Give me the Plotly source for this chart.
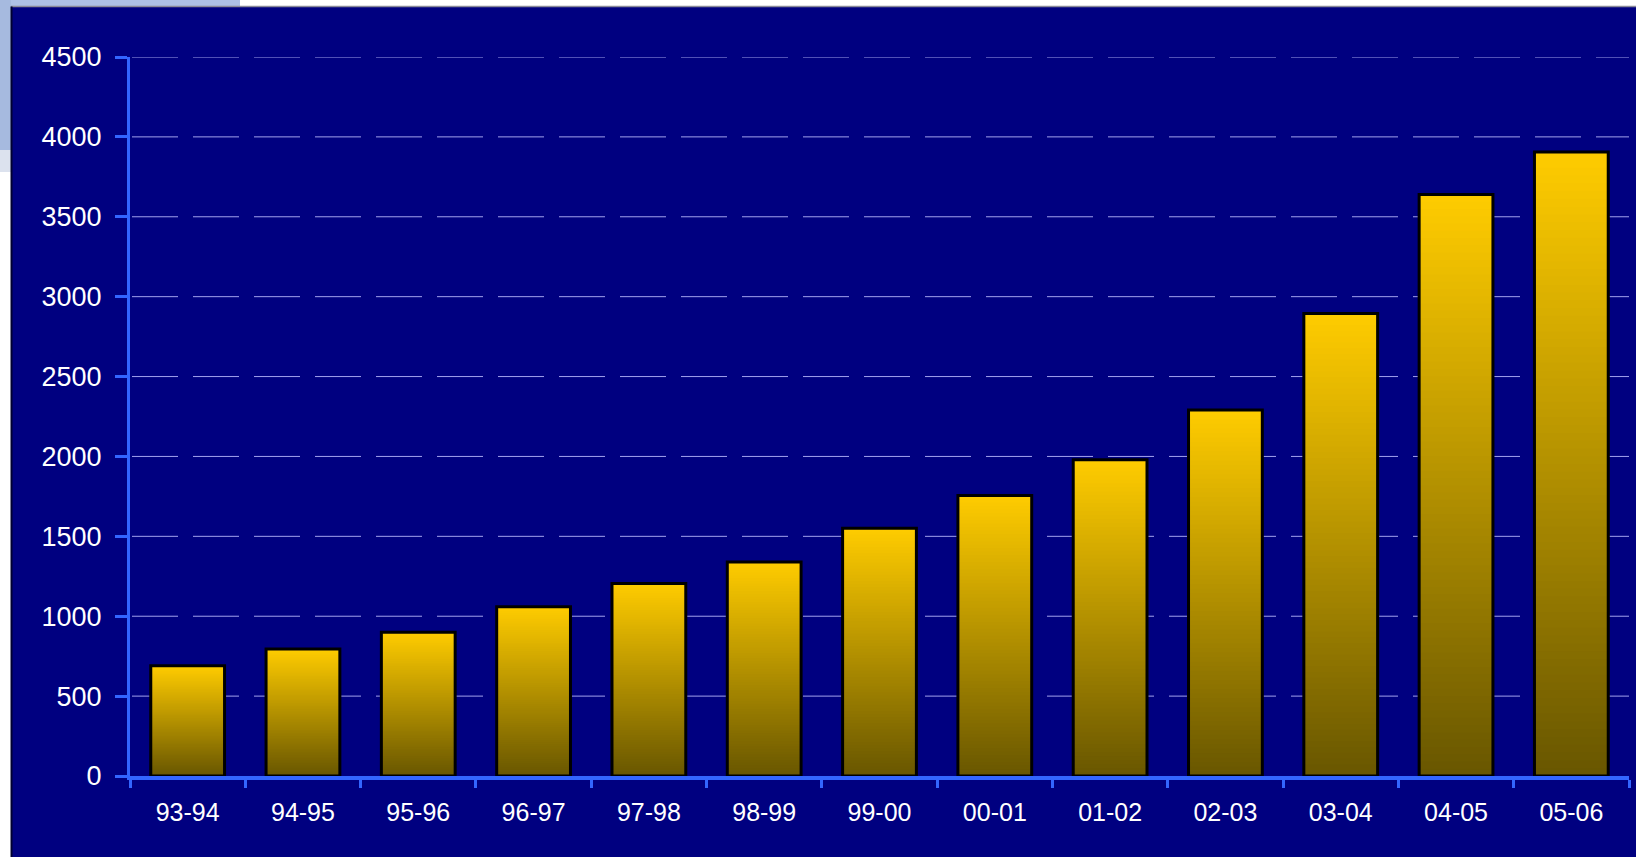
import plotly.graph_objects as go

# Seasons and yearly totals
seasons = ["93-94", "94-95", "95-96", "96-97", "97-98", "98-99", "99-00",
           "00-01", "01-02", "02-03", "03-04", "04-05", "05-06"]
totals = [690, 795, 900, 1060, 1205, 1340, 1550, 1755, 1980, 2290, 2895, 3640, 3905]

y_ticks = [0, 500, 1000, 1500, 2000, 2500, 3000, 3500, 4000, 4500]

W, H = 1636, 857
ML, MR, MT, MB = 130, 7, 57, 81
PW, PH = W - ML - MR, H - MT - MB

NAVY = "#000080"
AXIS_BLUE = "#3366FF"
GRID = "rgba(190,190,255,0.85)"
TOP = (255, 204, 0)
BOTTOM = (104, 86, 0)
N_SLICES = 80


def px_x(px):
    return (px - ML) / PW


def px_y(py):
    return (H - MB - py) / PH


fig = go.Figure()

# Vertical gold gradient: each layer starts a bit higher and runs up to the bar top,
# so later (brighter) layers cover the upper part of the earlier ones.
for k in range(N_SLICES):
    t = (k + 0.5) / N_SLICES
    c = tuple(round(BOTTOM[i] + (TOP[i] - BOTTOM[i]) * t) for i in range(3))
    fig.add_trace(go.Bar(
        x=seasons,
        y=[v * (N_SLICES - k) / N_SLICES for v in totals],
        base=[v * k / N_SLICES for v in totals],
        marker=dict(color="rgb(%d,%d,%d)" % c, line=dict(width=0)),
        hoverinfo="skip",
        showlegend=False,
    ))

# Black outline around each bar
fig.add_trace(go.Bar(
    x=seasons,
    y=totals,
    marker=dict(color="rgba(0,0,0,0)", line=dict(color="black", width=3)),
    showlegend=False,
))

shapes = [
    # navy panel
    dict(type="rect", xref="paper", yref="paper", layer="below",
         x0=px_x(11), x1=px_x(W + 5), y0=px_y(7), y1=px_y(H + 5),
         fillcolor=NAVY, line=dict(width=0)),
    # light blue backdrop peeking out at the top-left
    dict(type="rect", xref="paper", yref="paper", layer="below",
         x0=px_x(0), x1=px_x(240), y0=px_y(0), y1=px_y(7),
         fillcolor="#AEC1E6", line=dict(width=0)),
    dict(type="rect", xref="paper", yref="paper", layer="below",
         x0=px_x(0), x1=px_x(11), y0=px_y(0), y1=px_y(150),
         fillcolor="#A6BADF", line=dict(width=0)),
    dict(type="rect", xref="paper", yref="paper", layer="below",
         x0=px_x(0), x1=px_x(11), y0=px_y(150), y1=px_y(172),
         fillcolor="#DCE2EE", line=dict(width=0)),
    # panel edges
    dict(type="line", xref="paper", yref="paper", layer="below",
         x0=px_x(11), x1=px_x(W), y0=px_y(6.5), y1=px_y(6.5),
         line=dict(color="#8A8A99", width=1.5)),
    dict(type="line", xref="paper", yref="paper", layer="below",
         x0=px_x(11.5), x1=px_x(11.5), y0=px_y(6.5), y1=px_y(H),
         line=dict(color="#000030", width=2)),
]

# Dashed horizontal gridlines, dash pattern starting at the value axis
for v in y_ticks[1:]:
    shapes.append(dict(
        type="line", xref="paper", yref="y", layer="below",
        x0=px_x(132), x1=1, y0=v, y1=v,
        line=dict(color=GRID, width=1, dash="46px,15px"),
    ))

fig.update_layout(
    width=W, height=H,
    margin=dict(l=ML, r=MR, t=MT, b=MB, pad=0),
    paper_bgcolor="white",
    plot_bgcolor="rgba(0,0,0,0)",
    barmode="overlay",
    bargap=0.36,
    shapes=shapes,
    font=dict(family="Liberation Sans, Arial, sans-serif", color="white", size=25),
    xaxis=dict(
        type="category",
        showline=True, linecolor=AXIS_BLUE, linewidth=4,
        ticks="outside", tickson="boundaries", ticklen=8, tickwidth=3,
        tickcolor=AXIS_BLUE,
        showgrid=False,
        tickfont=dict(size=25, color="white"),
        ticklabelstandoff=11,
    ),
    yaxis=dict(
        range=[0, 4500],
        tickvals=y_ticks,
        showline=True, linecolor=AXIS_BLUE, linewidth=3,
        ticks="outside", ticklen=12, tickwidth=3, tickcolor=AXIS_BLUE,
        showgrid=False,
        zeroline=False,
        tickfont=dict(size=27, color="white"),
        ticklabelstandoff=8,
    ),
)

fig.write_html("out.html")
